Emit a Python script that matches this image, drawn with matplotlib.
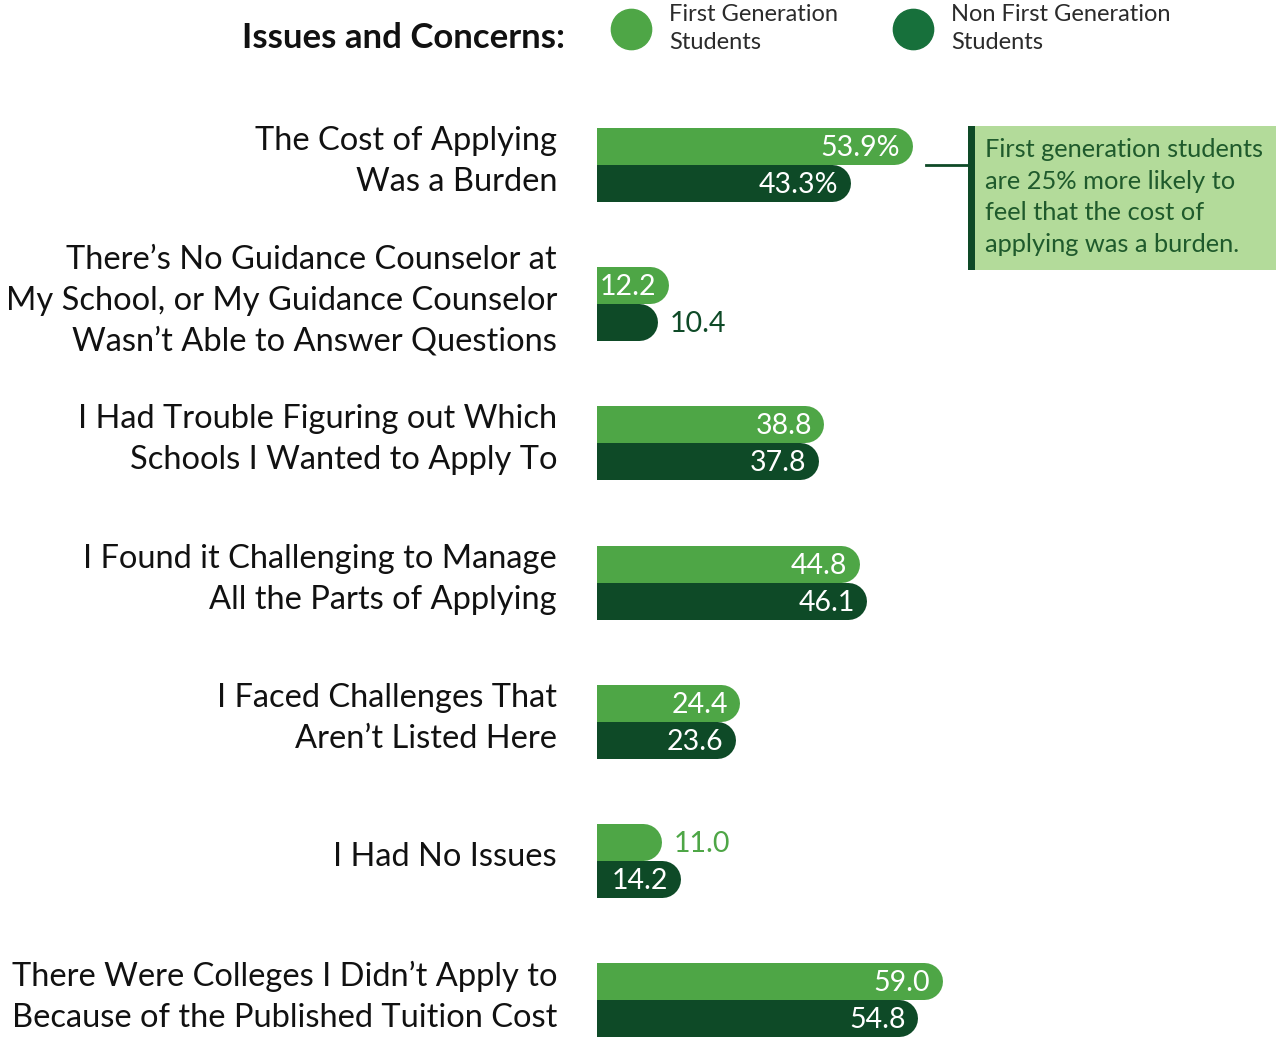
import matplotlib.pyplot as plt
from matplotlib.lines import Line2D
from matplotlib.patches import Rectangle

plt.rcParams['font.family'] = ['Lato', 'DejaVu Sans']

categories = [
    "The Cost of Applying\nWas a Burden",
    "There\u2019s No Guidance Counselor at\nMy School, or My Guidance Counselor\nWasn\u2019t Able to Answer Questions",
    "I Had Trouble Figuring out Which\nSchools I Wanted to Apply To",
    "I Found it Challenging to Manage\nAll the Parts of Applying",
    "I Faced Challenges That\nAren\u2019t Listed Here",
    "I Had No Issues",
    "There Were Colleges I Didn\u2019t Apply to\nBecause of the Published Tuition Cost",
]
first_gen = [53.9, 12.2, 38.8, 44.8, 24.4, 11.0, 59.0]
non_first = [43.3, 10.4, 37.8, 46.1, 23.6, 14.2, 54.8]
first_lbl = ["53.9%", "12.2", "38.8", "44.8", "24.4", "11.0", "59.0"]
non_lbl = ["43.3%", "10.4", "37.8", "46.1", "23.6", "14.2", "54.8"]
series_names = ["First Generation\nStudents", "Non First Generation\nStudents"]
note = "First generation students\nare 25% more likely to\nfeel that the cost of\napplying was a burden."

LIGHT = "#4ea646"
DARK = "#0e4a27"
DARK_LEG = "#17703b"
BOX = "#b3db9a"
NOTE_TXT = "#1f5a2c"

W, H = 1280, 1042
fig = plt.figure(figsize=(W / 100, H / 100), dpi=100)

def fx(x):
    return x / W

def fy(y):
    return 1 - y / H

# bar axes: left edge at pixel 597, y in pixel rows
left = 597
ppu = 5.85  # pixels per percentage unit
ax = fig.add_axes([fx(left), 0, 1 - fx(left), 1])
ax.set_xlim(0, (W - left) / ppu)
ax.set_ylim(H, 0)
ax.axis('off')

bar_h = 37
r = bar_h / 2 / ppu
lw = bar_h * 0.72
y0, step = 146, 139.2

for i, cat in enumerate(categories):
    ya = y0 + i * step
    yb = ya + bar_h
    for y, v, lab, col in [(ya, first_gen[i], first_lbl[i], LIGHT),
                           (yb, non_first[i], non_lbl[i], DARK)]:
        ax.plot([-r, v - r], [y, y], color=col, lw=lw, solid_capstyle='round')
        if v >= 12:
            ax.text(v - 12 / ppu, y + 2, lab, color='white', fontsize=20.5,
                    ha='right', va='center')
        else:
            ax.text(v + 12 / ppu, y + 2, lab, color=col, fontsize=20.5,
                    ha='left', va='center')
    fig.text(fx(557), fy((ya + yb) / 2 - 3), cat, ha='right', va='center',
             fontsize=23.5, color='#111111', linespacing=1.46)

# title and legend
fig.text(fx(565), fy(38), "Issues and Concerns:", ha='right', va='center',
         fontsize=25, fontweight='bold', color='#111111')
for cx, col, name in [(631, LIGHT, series_names[0]), (913, DARK_LEG, series_names[1])]:
    fig.add_artist(Line2D([fx(cx)], [fy(29)], marker='o', markersize=29,
                          color=col, transform=fig.transFigure))
    fig.text(fx(cx + 38), fy(28.5), name, ha='left', va='center', fontsize=17,
             color='#2b2b2b', linespacing=1.45)

# annotation
fig.add_artist(Line2D([fx(926), fx(968)], [fy(165), fy(165)], color=DARK, lw=2,
                      transform=fig.transFigure))
fig.add_artist(Rectangle((fx(968), fy(270)), fx(1276 - 968), 144 / H,
                         facecolor=BOX, edgecolor='none', transform=fig.transFigure))
fig.add_artist(Rectangle((fx(968), fy(270)), fx(7), 144 / H,
                         facecolor=DARK, edgecolor='none', transform=fig.transFigure))
fig.text(fx(985), fy(197), note, ha='left', va='center', fontsize=18.3,
         color=NOTE_TXT, linespacing=1.45)

fig.savefig("out.png", dpi=100)
